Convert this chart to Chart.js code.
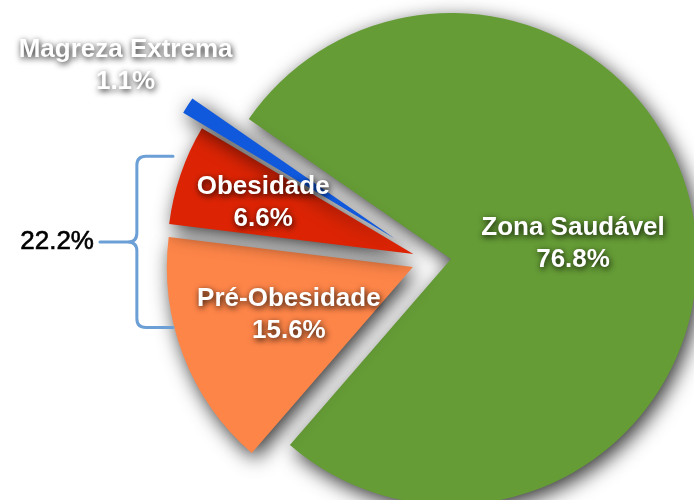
<!DOCTYPE html>
<html><head><meta charset="utf-8">
<script src="https://cdn.jsdelivr.net/npm/chart.js@4/dist/chart.umd.min.js"></script>
<style>html,body{margin:0;padding:0;background:#fff}#wrap{width:694px;height:500px}</style>
</head><body><div id="wrap"><canvas id="c" width="694" height="500"></canvas></div>
<script>
// ---- data ----
const categories = ["Zona Saudável", "Pré-Obesidade", "Obesidade", "Magreza Extrema"];
const percentages = [76.8, 15.6, 6.6, 1.1];
const groupedCategories = ["Pré-Obesidade", "Obesidade"];

// ---- style ----
const colors = ["#659c36", "#fe8548", "#dc2405", "#1059dc"];
const explodeDistance = [0, 39, 38, 60];      // px
const explodeAngle = [0, 168, 187.5, 200];    // degrees (canvas)
const labelDistance = [0.5, 0.54, 0.645, 1.3]; // fraction of radius

const groupValue = groupedCategories.reduce((s, c) => s + percentages[categories.indexOf(c)], 0);

const pieFx = {
  id: 'pieFx',
  afterDatasetsUpdate(chart) {
    const meta = chart.getDatasetMeta(0);
    meta.data.forEach((arc, i) => {
      const a = explodeAngle[i] * Math.PI / 180;
      arc.x += explodeDistance[i] * Math.cos(a);
      arc.y += explodeDistance[i] * Math.sin(a);
    });
  },
  beforeDatasetsDraw(chart) {
    const ctx = chart.ctx;
    ctx.save();
    ctx.shadowColor = 'rgba(0,0,0,0.8)';
    ctx.shadowBlur = 20;
    ctx.shadowOffsetX = 4;
    ctx.shadowOffsetY = 6;
  },
  afterDatasetsDraw(chart) {
    const ctx = chart.ctx;
    ctx.restore();
    const meta = chart.getDatasetMeta(0);
    meta.data.forEach((arc, i) => {
      const mid = (arc.startAngle + arc.endAngle) / 2;
      const d = labelDistance[i] * arc.outerRadius;
      const x = arc.x + Math.cos(mid) * d;
      const y = arc.y + Math.sin(mid) * d;
      ctx.save();
      ctx.font = 'bold 26px "Liberation Sans", Arial, sans-serif';
      ctx.fillStyle = '#ffffff';
      ctx.textAlign = 'center';
      ctx.textBaseline = 'middle';
      ctx.shadowColor = 'rgba(0,0,0,0.9)';
      ctx.shadowBlur = 6;
      ctx.shadowOffsetX = 1;
      ctx.shadowOffsetY = 2;
      ctx.fillText(categories[i], x, y - 16);
      ctx.fillText(percentages[i].toFixed(1) + '%', x, y + 16);
      ctx.restore();
    });
    // bracket grouping the two obesity slices
    const g = meta.data[0];
    const cx = g.x, cy = g.y, r = g.outerRadius;
    const topY = cy - 0.418 * r, botY = cy + 0.278 * r;
    const vx = cx - 1.277 * r, endX = cx - 1.13 * r;
    const tipX = cx - 1.427 * r, tipY = cy - 0.069 * r;
    const rr = 9;
    ctx.save();
    ctx.strokeStyle = '#6b9fd6';
    ctx.lineWidth = 3;
    ctx.lineCap = 'round';
    ctx.lineJoin = 'round';
    ctx.beginPath();
    ctx.moveTo(endX, topY);
    ctx.lineTo(vx + rr, topY);
    ctx.quadraticCurveTo(vx, topY, vx, topY + rr);
    ctx.lineTo(vx, tipY - rr);
    ctx.quadraticCurveTo(vx, tipY, vx - rr, tipY);
    ctx.lineTo(tipX, tipY);
    ctx.moveTo(vx - rr, tipY);
    ctx.quadraticCurveTo(vx, tipY, vx, tipY + rr);
    ctx.lineTo(vx, botY - rr);
    ctx.quadraticCurveTo(vx, botY, vx + rr, botY);
    ctx.lineTo(endX, botY);
    ctx.stroke();
    ctx.font = '26px "Liberation Sans", Arial, sans-serif';
    ctx.fillStyle = '#000';
    ctx.strokeStyle = '#000';
    ctx.lineWidth = 0.6;
    ctx.textAlign = 'right';
    ctx.textBaseline = 'middle';
    const gl = groupValue.toFixed(1) + '%';
    ctx.fillText(gl, tipX - 6, tipY);
    ctx.strokeText(gl, tipX - 6, tipY);
    ctx.restore();
  }
};

new Chart(document.getElementById('c'), {
  type: 'pie',
  data: {
    labels: categories,
    datasets: [{
      data: percentages,
      backgroundColor: colors,
      borderWidth: 0,
      radius: 246,
      clip: false
    }]
  },
  options: {
    responsive: false,
    animation: false,
    rotation: 304.7,
    layout: { padding: { left: 208, right: 0, top: 18, bottom: 0 } },
    plugins: { legend: { display: false }, tooltip: { enabled: false } },
    events: []
  },
  plugins: [pieFx]
});
</script>
</body></html>
